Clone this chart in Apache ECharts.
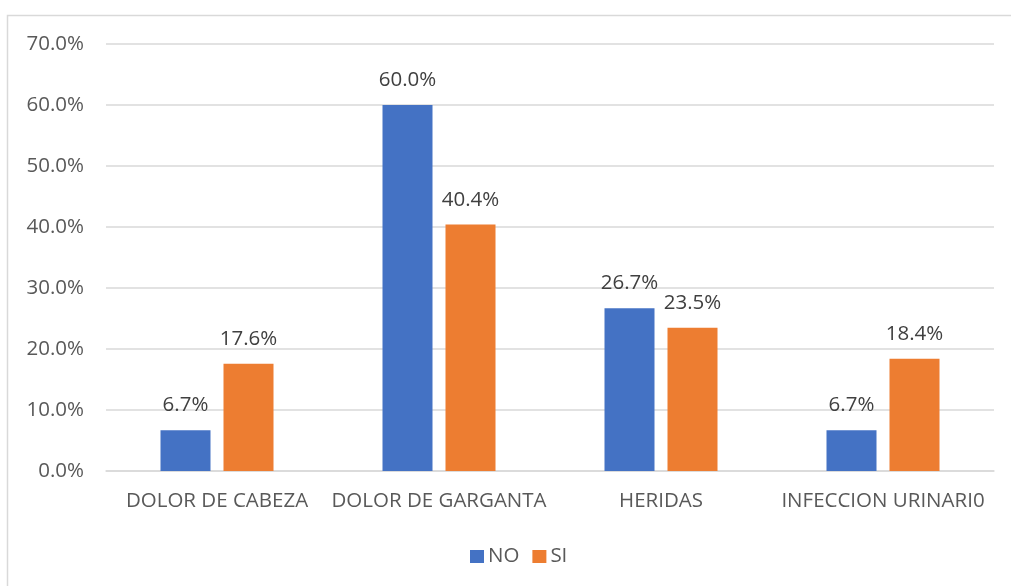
<!DOCTYPE html>
<html>
<head>
<meta charset="utf-8">
<script src="https://cdn.jsdelivr.net/npm/echarts@6/dist/echarts.min.js"></script>
<style>
  html, body { margin: 0; padding: 0; background: #fff; }
  #chart { width: 1011px; height: 586px; }
</style>
</head>
<body>
<div id="chart"></div>
<script>
const categories = ['DOLOR DE CABEZA', 'DOLOR DE GARGANTA', 'HERIDAS', 'INFECCION URINARI0'];
const noValues = [6.7, 60.0, 26.7, 6.7];
const siValues = [17.6, 40.4, 23.5, 18.4];
const yTicks = [0, 10, 20, 30, 40, 50, 60, 70];

const FONT = '"Open Sans", "Noto Sans", sans-serif';
const FS = 20.5;
const chart = echarts.init(document.getElementById('chart'));

const labelStyle = {
  show: true,
  position: 'top',
  distance: 14,
  color: '#404040',
  fontSize: FS,
  fontFamily: FONT,
  formatter: p => p.value.toFixed(1) + '%'
};

chart.setOption({
  animation: false,
  graphic: [{
    type: 'rect',
    shape: { x: 7.5, y: 15.5, width: 1100, height: 700 },
    style: { fill: 'none', stroke: '#d9d9d9', lineWidth: 1.5 },
    silent: true
  }],
  grid: { left: 106, right: 17, top: 44, bottom: 115 },
  legend: {
    top: 546,
    left: 470,
    padding: 0,
    itemWidth: 14,
    itemHeight: 13,
    itemGap: 13,
    icon: 'rect',
    textStyle: { color: '#595959', fontSize: FS, fontFamily: FONT, padding: [0, 0, 0, -1] },
    data: ['NO', 'SI']
  },
  xAxis: {
    type: 'category',
    data: categories,
    axisLine: { lineStyle: { color: '#d9d9d9', width: 1.5 } },
    axisTick: { show: false },
    axisLabel: { color: '#595959', fontSize: FS, fontFamily: FONT, margin: 20, interval: 0 }
  },
  yAxis: {
    type: 'value',
    min: yTicks[0],
    max: yTicks[yTicks.length - 1],
    interval: 10,
    axisLine: { show: false },
    axisTick: { show: false },
    splitLine: { lineStyle: { color: '#d9d9d9', width: 1.5 } },
    axisLabel: {
      color: '#595959', fontSize: FS, fontFamily: FONT, margin: 22,
      formatter: v => v.toFixed(1) + '%'
    }
  },
  series: [
    {
      name: 'NO', type: 'bar', data: noValues,
      barWidth: 50, barGap: '26%',
      itemStyle: { color: '#4472C4' },
      label: labelStyle
    },
    {
      name: 'SI', type: 'bar', data: siValues,
      barWidth: 50,
      itemStyle: { color: '#ED7D31' },
      label: labelStyle
    }
  ]
});
</script>
</body>
</html>
